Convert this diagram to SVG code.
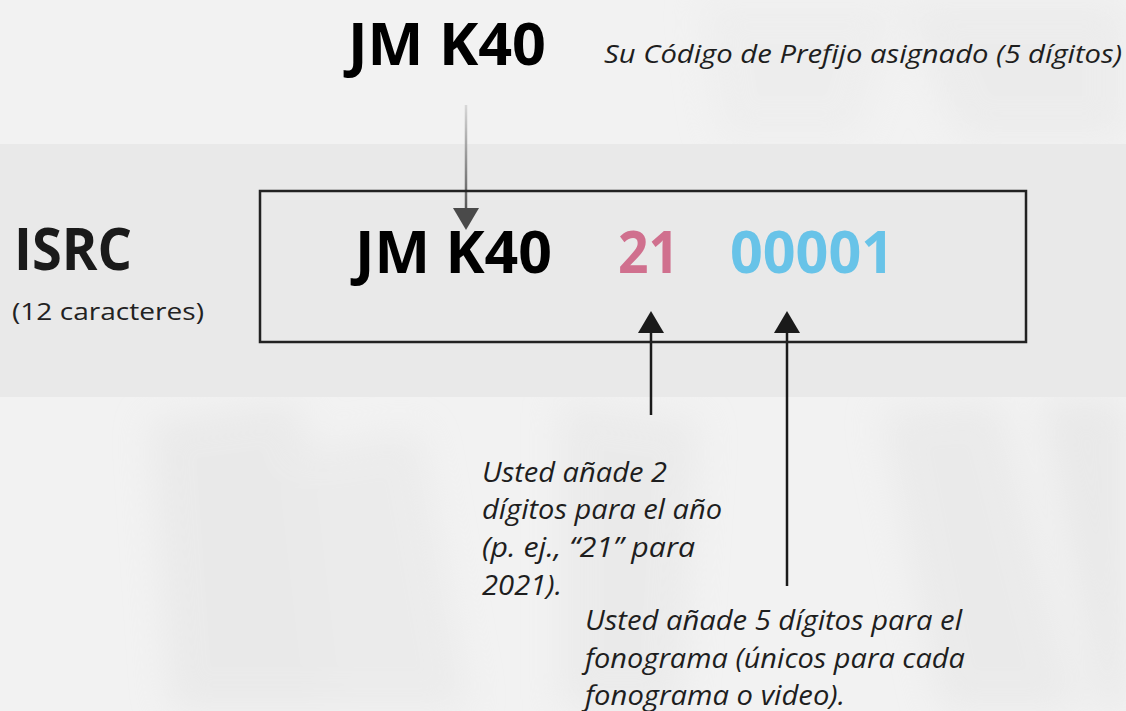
<svg xmlns="http://www.w3.org/2000/svg" width="1126" height="711" viewBox="0 0 1126 711">
  <defs>
    <style>
      .big { font-family: "Open Sans", "Noto Sans", "Liberation Sans", sans-serif; font-weight: 700; font-size: 59px; }
      .sub { font-family: "Open Sans", "Noto Sans", "Liberation Sans", sans-serif; font-size: 24px; fill: #222; }
      .cap { font-family: "Open Sans", "Noto Sans", "Liberation Sans", sans-serif; font-style: italic; font-size: 28px; fill: #1e1e1e; }
      .conn { stroke: #1a1a1a; stroke-width: 2.5; fill: none; }
    </style>
    <marker id="arrBlack" viewBox="0 0 22 26" refX="0" refY="13" markerWidth="22" markerHeight="26" markerUnits="userSpaceOnUse" orient="auto">
      <path d="M0,0 L22,13 L0,26 z" fill="#1a1a1a"/>
    </marker>
    <marker id="arrGray" viewBox="0 0 22 26" refX="0" refY="13" markerWidth="22" markerHeight="26" markerUnits="userSpaceOnUse" orient="auto">
      <path d="M0,0 L22,13 L0,26 z" fill="#4a4a4a"/>
    </marker>
    <linearGradient id="topLine" x1="0" y1="105" x2="0" y2="210" gradientUnits="userSpaceOnUse">
      <stop offset="0" stop-color="#d8d8d8"/>
      <stop offset="1" stop-color="#555"/>
    </linearGradient>
    <filter id="blur" x="-30%" y="-30%" width="160%" height="160%">
      <feGaussianBlur stdDeviation="18"/>
    </filter>
  </defs>

  <!-- background -->
  <rect x="0" y="0" width="1126" height="711" fill="#f2f2f2"/>
  <g filter="url(#blur)" opacity="0.5">
    <path d="M150,420 L300,400 L330,711 L170,711 Z" fill="#e2e2e2"/>
    <path d="M300,450 L420,430 L470,711 L330,711 Z" fill="#e5e5e5"/>
    <path d="M560,400 L700,420 L680,711 L560,711 Z" fill="#e4e4e4"/>
    <path d="M880,410 L1000,400 L1080,711 L940,711 Z" fill="#e3e3e3"/>
    <path d="M1040,400 L1126,400 L1126,711 L1100,711 Z" fill="#e0e0e0"/>
    <path d="M700,0 L900,0 L860,140 L720,140 Z" fill="#eaeaea"/>
    <path d="M900,0 L1126,0 L1126,140 L960,140 Z" fill="#e6e6e6"/>
  </g>

  <!-- band -->
  <rect x="0" y="144" width="1126" height="253" fill="#e9e9e9"/>

  <!-- connectors -->
  <g id="connectors">
    <line x1="466" y1="105" x2="466" y2="208" stroke="url(#topLine)" stroke-width="2.5" marker-end="url(#arrGray)"/>
    <line class="conn" x1="651" y1="415" x2="651" y2="333" marker-end="url(#arrBlack)"/>
    <line class="conn" x1="787" y1="586" x2="787" y2="333" marker-end="url(#arrBlack)"/>
  </g>

  <g id="prefix">
    <text class="big" x="348" y="65" fill="#000" textLength="198" lengthAdjust="spacingAndGlyphs">JM K40</text>
    <text class="cap" x="604" y="63" style="font-size:26px" textLength="518" lengthAdjust="spacingAndGlyphs">Su Código de Prefijo asignado (5 dígitos)</text>
  </g>

  <g id="isrc-label">
    <text class="big" x="14" y="270" fill="#1a1a1a" textLength="118" lengthAdjust="spacingAndGlyphs">ISRC</text>
    <text class="sub" x="12" y="320" textLength="192" lengthAdjust="spacingAndGlyphs">(12 caracteres)</text>
  </g>

  <g id="isrc-box">
    <rect x="260" y="191" width="766" height="151" fill="none" stroke="#222" stroke-width="2.5"/>
    <text class="big" x="355" y="273" fill="#000" textLength="197" lengthAdjust="spacingAndGlyphs">JM K40</text>
    <text class="big" x="618" y="273" fill="#d0708e" textLength="61" lengthAdjust="spacingAndGlyphs">21</text>
    <text class="big" x="730" y="273" fill="#68c3e8" textLength="164" lengthAdjust="spacingAndGlyphs">00001</text>
  </g>

  <g id="year-note">
    <text class="cap" x="482" y="482" textLength="185" lengthAdjust="spacingAndGlyphs">Usted añade 2</text>
    <text class="cap" x="482" y="519" textLength="240" lengthAdjust="spacingAndGlyphs">dígitos para el año</text>
    <text class="cap" x="482" y="557" textLength="213" lengthAdjust="spacingAndGlyphs">(p. ej., “21” para</text>
    <text class="cap" x="482" y="595" textLength="80" lengthAdjust="spacingAndGlyphs">2021).</text>
  </g>

  <g id="recording-note">
    <text class="cap" x="585" y="630" textLength="377" lengthAdjust="spacingAndGlyphs">Usted añade 5 dígitos para el</text>
    <text class="cap" x="585" y="668" textLength="380" lengthAdjust="spacingAndGlyphs">fonograma (únicos para cada</text>
    <text class="cap" x="585" y="705" textLength="260" lengthAdjust="spacingAndGlyphs">fonograma o video).</text>
  </g>
</svg>
